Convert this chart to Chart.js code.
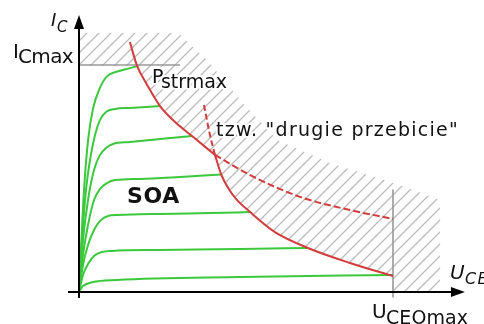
<!DOCTYPE html>
<html><head><meta charset="utf-8">
<script src="https://cdn.jsdelivr.net/npm/chart.js@4.4.0/dist/chart.umd.min.js"></script>
<style>html,body{margin:0;padding:0;background:#fff;}#wrap{width:484px;height:324px;position:relative;}</style>
</head><body><div id="wrap"><canvas id="c"></canvas></div>
<script>
// Units: U = collector-emitter voltage (% of UCEOmax), I = collector current (% of ICmax)
// Output characteristics (green)
const c1U = [0, 0.6, 1.6, 2.9, 4.5, 6.7, 8.9, 12, 16, 18.5];
const c1I = [0, 18, 45, 67, 81, 90, 95, 97, 98.5, 99.5];
const c2U = [0, 0.96, 2.23, 3.5, 5.1, 6.7, 8.6, 11.5, 16.2, 25.8];
const c2I = [0, 22.9, 44.9, 58.1, 69.2, 75.8, 79.3, 80.6, 81.1, 81.9];
const c3U = [0, 1.27, 2.87, 4.78, 6.69, 8.6, 10.8, 16.2, 25.8, 36.0];
const c3I = [0, 22.9, 40.5, 53.7, 60.4, 63.4, 65.2, 66.1, 67.4, 68.7];
const c4U = [0, 1.27, 2.87, 4.78, 6.69, 8.9, 11.5, 19.4, 32.2, 45.5];
const c4I = [0, 16.3, 29.5, 40.5, 45.4, 48.0, 49.3, 49.8, 50.7, 51.8];
const c5U = [0, 1.27, 2.87, 4.78, 6.69, 9.2, 12.4, 25.8, 41.7, 54.5];
const c5I = [0, 11.9, 20.7, 27.3, 31.3, 33.5, 33.9, 34.4, 34.8, 35.2];
const c6U = [0, 1.27, 2.87, 4.78, 7.3, 10.5, 25.8, 51.3, 72.9];
const c6I = [0, 7.5, 12.3, 15.9, 17.6, 18.1, 18.5, 18.9, 19.4];
const c7U = [0, 1.27, 4.46, 12.1, 51.3, 100];
const c7I = [0, 2.6, 4.4, 5.3, 6.6, 7.5];
// Maximum power dissipation hyperbola (Pstrmax)
const pSolidU = [16.2, 18.5, 21.7, 25.8, 30.6, 36.0, 43.3];
const pSolidI = [110.1, 99.6, 91.2, 81.9, 74.9, 68.7, 60.4];
const pDashU = [43.3, 54.5, 70.4, 86.3, 100];
const pDashI = [60.4, 51.5, 41.9, 36.1, 32.2];
// Second breakdown limit
const sbDashU = [39.8, 41.7, 43.3];
const sbDashI = [82.4, 69.2, 60.4];
const sbSolidU = [43.3, 44.3, 45.5, 47.5, 50.0, 54.5, 62.4, 72.9, 86.3, 100];
const sbSolidI = [60.4, 55.9, 51.1, 45.8, 41.0, 35.2, 26.4, 19.4, 12.8, 7.0];
// Limits
const icmaxU = [0, 32.2];
const icmaxI = [100, 100];
const uceoU = [100, 100];
const uceoI = [44.9, -2.2];
// Hatched (forbidden) region outline
const hatchU = [0.3, 31.5, 40.8, 51.3, 63.1, 79.9, 102.2, 115, 115, 100, 100, 86.3, 72.9, 62.4, 54.5, 50.0, 47.5, 45.5, 44.3, 43.3, 36.0, 30.6, 25.8, 21.7, 18.5, 0.3];
const hatchI = [114.1, 114.1, 102.2, 84.6, 67.0, 56.8, 47.1, 40.5, 0, 0, 7.0, 12.8, 19.4, 26.4, 35.2, 41.0, 45.8, 51.1, 55.9, 60.4, 68.7, 74.9, 81.9, 91.2, 99.6, 99.6];
// Axis extents
const uAxis = [-3.5, 122.9];
const iAxis = [-2.6, 122];
// Texts
const lblIC = ['I', 'C'];
const lblICmax = ['I', 'Cmax'];
const lblP = ['P', 'strmax'];
const lblSB = 'tzw. "drugie przebicie"';
const lblSOA = 'SOA';
const lblUCE = ['U', 'CE'];
const lblUCEO = ['U', 'CEOmax'];

const pts = (us, is) => us.map((u, k) => ({x: u, y: is[k]}));
const GREEN = '#3cc83c', RED = '#d23c3c', GRAY = '#999999';

const canvas = document.getElementById('c');
const ctx0 = canvas.getContext('2d');
function hatchPattern() {
  const s = 12, c = document.createElement('canvas');
  c.width = s; c.height = s;
  const g = c.getContext('2d');
  g.strokeStyle = '#bbbbbb'; g.lineWidth = 1.3; g.lineCap = 'square';
  g.beginPath();
  g.moveTo(-2, s + 2); g.lineTo(s + 2, -2);
  g.moveTo(-2, 2); g.lineTo(2, -2);
  g.moveTo(s - 2, s + 2); g.lineTo(s + 2, s - 2);
  g.stroke();
  return ctx0.createPattern(c, 'repeat');
}

const green = (u, i) => ({data: pts(u, i), borderColor: GREEN, borderWidth: 2, pointRadius: 0, cubicInterpolationMode: 'monotone', fill: false, order: 10});
const red = (u, i, dash) => ({data: pts(u, i), borderColor: RED, borderWidth: 2, pointRadius: 0, cubicInterpolationMode: 'monotone', fill: false, borderDash: dash || [], order: 5});

const datasets = [
  red(pSolidU, pSolidI), red(pDashU, pDashI, [7, 3]),
  red(sbDashU, sbDashI, [6, 3]), red(sbSolidU, sbSolidI),
  {data: pts(icmaxU, icmaxI), borderColor: GRAY, borderWidth: 1.6, pointRadius: 0, fill: false, order: 8},
  {data: pts(uceoU, uceoI), borderColor: GRAY, borderWidth: 1.6, pointRadius: 0, fill: false, order: 8},
  green(c1U, c1I), green(c2U, c2I), green(c3U, c3I), green(c4U, c4I),
  green(c5U, c5I), green(c6U, c6I), green(c7U, c7I),
  {data: pts(hatchU, hatchI), borderWidth: 0, borderColor: 'rgba(0,0,0,0)', backgroundColor: hatchPattern(), pointRadius: 0, fill: 'shape', tension: 0, order: 20}
];

function drawText(ctx, s, x, yb, font, w, halo) {
  ctx.save();
  ctx.font = font;
  ctx.letterSpacing = '0px';
  if (w) {
    const m = ctx.measureText(s).width;
    ctx.letterSpacing = ((w - m) / s.length).toFixed(2) + 'px';
  }
  ctx.textBaseline = 'alphabetic';
  ctx.textAlign = 'left';
  if (halo) { ctx.strokeStyle = '#fff'; ctx.lineWidth = 4; ctx.lineJoin = 'round'; ctx.strokeText(s, x, yb); }
  ctx.fillStyle = '#111111';
  ctx.fillText(s, x, yb);
  ctx.restore();
}

const axesPlugin = {
  id: 'axesAndText',
  afterDraw(chart) {
    const ctx = chart.ctx, xs = chart.scales.x, ys = chart.scales.y;
    const x0 = xs.getPixelForValue(0), y0 = ys.getPixelForValue(0);
    const xL = xs.getPixelForValue(uAxis[0]), xR = xs.getPixelForValue(uAxis[1]);
    const yB = ys.getPixelForValue(iAxis[0]), yT = ys.getPixelForValue(iAxis[1]);
    ctx.save();
    ctx.strokeStyle = '#000'; ctx.fillStyle = '#000'; ctx.lineWidth = 2;
    ctx.beginPath();
    ctx.moveTo(x0, yB); ctx.lineTo(x0, yT + 12);
    ctx.moveTo(xL, y0); ctx.lineTo(xR - 12, y0);
    ctx.stroke();
    ctx.beginPath();
    ctx.moveTo(x0, yT); ctx.lineTo(x0 - 5, yT + 14); ctx.lineTo(x0 + 5, yT + 14); ctx.closePath();
    ctx.fill();
    ctx.beginPath();
    ctx.moveTo(xR, y0); ctx.lineTo(xR - 14, y0 - 5); ctx.lineTo(xR - 14, y0 + 5); ctx.closePath();
    ctx.fill();
    ctx.restore();

    const F = '"DejaVu Sans", sans-serif';
    drawText(ctx, lblIC[0], 51, 26, 'italic 18px ' + F);
    drawText(ctx, lblIC[1], 57, 32, 'italic 15px ' + F, 11);
    drawText(ctx, lblICmax[0], 13, 58, '20px ' + F);
    drawText(ctx, lblICmax[1], 18, 63, '20px ' + F, 55);
    drawText(ctx, lblP[0], 152, 83, '19px ' + F, 0, true);
    drawText(ctx, lblP[1], 161, 88, '19px ' + F, 66, true);
    drawText(ctx, lblSB, 216, 136, '19px ' + F, 243, true);
    drawText(ctx, lblSOA, 127, 203, 'bold 22px ' + F, 53);
    drawText(ctx, lblUCE[0], 450, 279, 'italic 20px ' + F);
    drawText(ctx, lblUCE[1], 465, 284, 'italic 16px ' + F, 24);
    drawText(ctx, lblUCEO[0], 372, 318, '20px ' + F);
    drawText(ctx, lblUCEO[1], 386, 324, '19px ' + F, 82);
  }
};

new Chart(canvas, {
  type: 'line',
  data: {datasets},
  options: {
    responsive: true, maintainAspectRatio: false, animation: false, events: [],
    layout: {padding: 0, autoPadding: false},
    plugins: {legend: {display: false}, tooltip: {enabled: false}, title: {display: false}},
    scales: {
      x: {type: 'linear', min: -25.16, max: 128.98, display: false},
      y: {type: 'linear', min: -14.10, max: 128.63, display: false}
    },
    elements: {line: {borderCapStyle: 'butt', borderJoinStyle: 'round'}}
  },
  plugins: [axesPlugin]
});
</script>
</body></html>
